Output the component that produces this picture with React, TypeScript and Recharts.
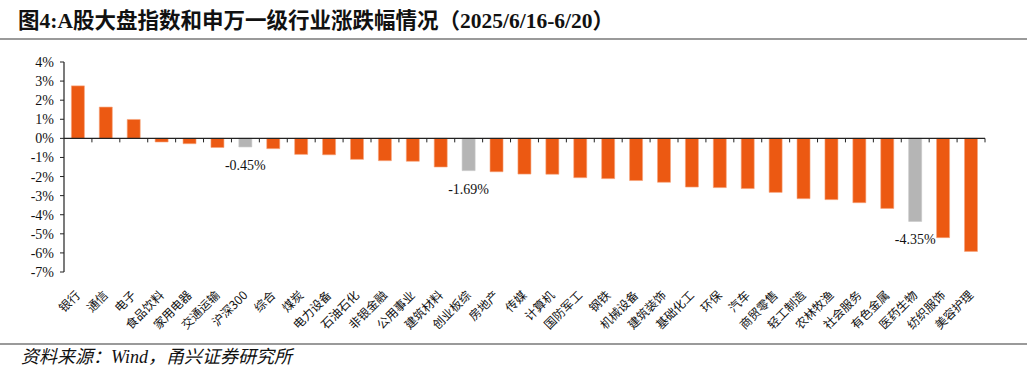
import React from "react";
import { BarChart, Bar, XAxis, YAxis, Cell, LabelList, ReferenceLine } from "recharts";

const categories = [
  "银行", "通信", "电子", "食品饮料", "家用电器", "交通运输", "沪深300", "综合", "煤炭", "电力设备",
  "石油石化", "非银金融", "公用事业", "建筑材料", "创业板综", "房地产", "传媒", "计算机", "国防军工", "钢铁",
  "机械设备", "建筑装饰", "基础化工", "环保", "汽车", "商贸零售", "轻工制造", "农林牧渔", "社会服务", "有色金属",
  "医药生物", "纺织服饰", "美容护理",
];
const changes = [
  2.75, 1.64, 0.99, -0.19, -0.28, -0.48, -0.45, -0.54, -0.84, -0.86,
  -1.1, -1.17, -1.2, -1.5, -1.69, -1.75, -1.87, -1.88, -2.06, -2.11,
  -2.21, -2.3, -2.55, -2.58, -2.63, -2.83, -3.16, -3.21, -3.37, -3.67,
  -4.35, -5.2, -5.92,
];
const isIndex = [
  false, false, false, false, false, false, true, false, false, false,
  false, false, false, false, true, false, false, false, false, false,
  false, false, false, false, false, false, false, false, false, false,
  true, false, false,
];
const yTicks = [-7, -6, -5, -4, -3, -2, -1, 0, 1, 2, 3, 4];

const ORANGE = "#EC5912";
const GRAY = "#B5B5B5";
const SERIF = '"Liberation Serif", "Times New Roman", "Noto Sans CJK SC", serif';
const CJK = '"Noto Sans CJK SC", "Liberation Serif", serif';

const data = categories.map((name, i) => ({ name, value: changes[i], idx: isIndex[i] }));

const XTick = (props: any) => {
  const { x, y, payload } = props;
  const ax = x + 3;
  const ay = y + 22;
  return (
    <text
      x={ax}
      y={ay}
      transform={`rotate(-45 ${ax} ${ay})`}
      textAnchor="end"
      fontSize={12}
      fontFamily={CJK}
      fill="#111"
    >
      {payload.value}
    </text>
  );
};

const ZeroLine = (props: any) => {
  const { x1, y1, x2, y2 } = props;
  const n = categories.length;
  const step = (x2 - x1) / n;
  const ticks = [];
  for (let i = 1; i <= n; i++) {
    const tx = x1 + step * i;
    ticks.push(<line key={i} x1={tx} x2={tx} y1={y1} y2={y1 + 4} stroke="#222" strokeWidth={1} />);
  }
  return (
    <g>
      <line x1={x1} y1={y1} x2={x2} y2={y2} stroke="#222" strokeWidth={1.2} />
      {ticks}
    </g>
  );
};

const IndexLabel = (props: any) => {
  const { x, y, width, height, index } = props;
  if (!isIndex[index]) return null;
  const bottom = Math.max(Number(y), Number(y) + Number(height));
  return (
    <text
      x={Number(x) + Number(width) / 2}
      y={bottom + 23}
      textAnchor="middle"
      fontSize={14}
      fontFamily={SERIF}
      fill="#111"
    >
      {changes[index].toFixed(2)}%
    </text>
  );
};

export default function App() {
  return (
    <div style={{ position: "absolute", left: 0, top: 0, width: 1032, height: 373, background: "#fff", overflow: "hidden" }}>
      <div
        style={{
          position: "absolute",
          left: 18,
          top: 9,
          fontSize: 21.5,
          fontWeight: "bold",
          fontFamily: SERIF,
          color: "#111",
          whiteSpace: "nowrap",
          lineHeight: "25px",
        }}
      >
        图4:A股大盘指数和申万一级行业涨跌幅情况（2025/6/16-6/20）
      </div>
      <div style={{ position: "absolute", left: 0, top: 38, width: 1027, height: 2, background: "#9a9a9a" }} />
      <div style={{ position: "absolute", left: 0, top: 0 }}>
        <BarChart
          width={1032}
          height={373}
          data={data}
          margin={{ top: 62, right: 47, bottom: 0, left: 0 }}
          barCategoryGap="26.5%"
        >
          <XAxis
            dataKey="name"
            interval={0}
            axisLine={false}
            tickLine={false}
            tickSize={0}
            height={101}
            tick={<XTick />}
          />
          <YAxis
            width={64}
            domain={[-7, 4]}
            ticks={yTicks}
            interval={0}
            allowDataOverflow
            axisLine={{ stroke: "#222", strokeWidth: 1.2 }}
            tickLine={{ stroke: "#222" }}
            tickSize={4}
            tickMargin={6}
            tickFormatter={(v: number) => `${v}%`}
            tick={{ fontSize: 14, fontFamily: SERIF, fill: "#111" }}
          />
          <Bar dataKey="value" isAnimationActive={false} stroke="#F6A47C" strokeWidth={0.6}>
            {data.map((d, i) => (
              <Cell key={i} fill={d.idx ? GRAY : ORANGE} stroke={d.idx ? "#C8C8C8" : "#F6A47C"} />
            ))}
            <LabelList dataKey="value" content={<IndexLabel />} />
          </Bar>
          <ReferenceLine y={0} shape={<ZeroLine />} ifOverflow="visible" />
        </BarChart>
      </div>
      <div style={{ position: "absolute", left: 0, top: 343, width: 1027, height: 2, background: "#9a9a9a" }} />
      <div
        style={{
          position: "absolute",
          left: 21,
          top: 347,
          fontSize: 18,
          fontStyle: "italic",
          fontFamily: SERIF,
          color: "#111",
          whiteSpace: "nowrap",
          lineHeight: "21px",
        }}
      >
        资料来源：Wind，甬兴证券研究所
      </div>
    </div>
  );
}
